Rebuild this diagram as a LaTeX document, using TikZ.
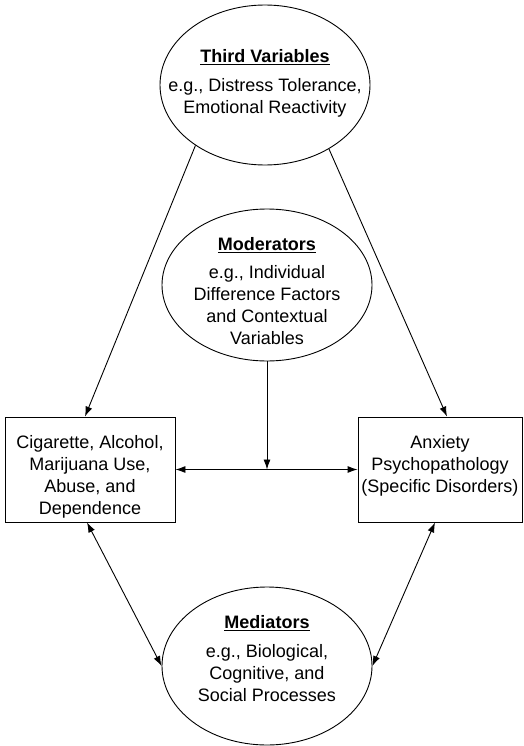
\documentclass[tikz,border=0pt]{standalone}
\usepackage{fontspec}
\setmainfont{Liberation Sans}
\usetikzlibrary{shapes, arrows.meta}

\begin{document}
\begin{tikzpicture}[x=1pt, y=-1pt, line width=0.9pt,
  oval/.style={shape=ellipse, minimum width=210pt, draw=black, fill=white, inner sep=0pt},
  box/.style={shape=rectangle, minimum height=105pt, draw=black, fill=white, inner sep=0pt},
  txt/.style={align=center, inner sep=0pt, anchor=north, font=\fontsize{18}{22}\selectfont},
  arr/.style={-{Latex[length=10pt, width=7pt]}},
  dbl/.style={{Latex[length=10pt, width=7pt]}-{Latex[length=10pt, width=7pt]}}]
\useasboundingbox (0,0) rectangle (523,746);
%third variables
\node[oval, minimum height=160pt] (third) at (265,85) {};
\node[txt] (thirdtxt) at (265,49) {\underline{\textbf{Third Variables}}\\[7pt] e.g., Distress Tolerance,\\ Emotional Reactivity};
%moderators
\node[oval, minimum height=152pt] (mod) at (267,285) {};
\node[txt] (modtxt) at (267,237) {\underline{\textbf{Moderators}}\\[6pt] e.g., Individual\\ Difference Factors\\ and Contextual\\ Variables};
%mediators
\node[oval, minimum height=158pt] (med) at (267,666) {};
\node[txt] (medtxt) at (267,615) {\underline{\textbf{Mediators}}\\[7pt] e.g., Biological,\\ Cognitive, and\\ Social Processes};
%the two boxes
\node[box, minimum width=170pt] (use) at (90,469.5) {};
\node[txt] (usetxt) at (90,435) {Cigarette, Alcohol,\\ Marijuana Use,\\ Abuse, and\\ Dependence};
\node[box, minimum width=164pt] (anx) at (440,469.5) {};
\node[txt] (anxtxt) at (440,435) {Anxiety\\ Psychopathology\\ (Specific Disorders)};
%%
\draw[arr] (third.221.6) -- ([xshift=-5pt]use.north);
\draw[arr] (third.315.4) -- ([xshift=7pt]anx.north);
\draw[dbl] (use.east) -- (anx.west);
\draw[arr] (mod.south) -- (mod.south |- use.east);
\draw[dbl] ([xshift=-3pt]use.south) -- (med.west);
\draw[dbl] ([xshift=-5pt]anx.south) -- (med.east);
\end{tikzpicture}
\end{document}
